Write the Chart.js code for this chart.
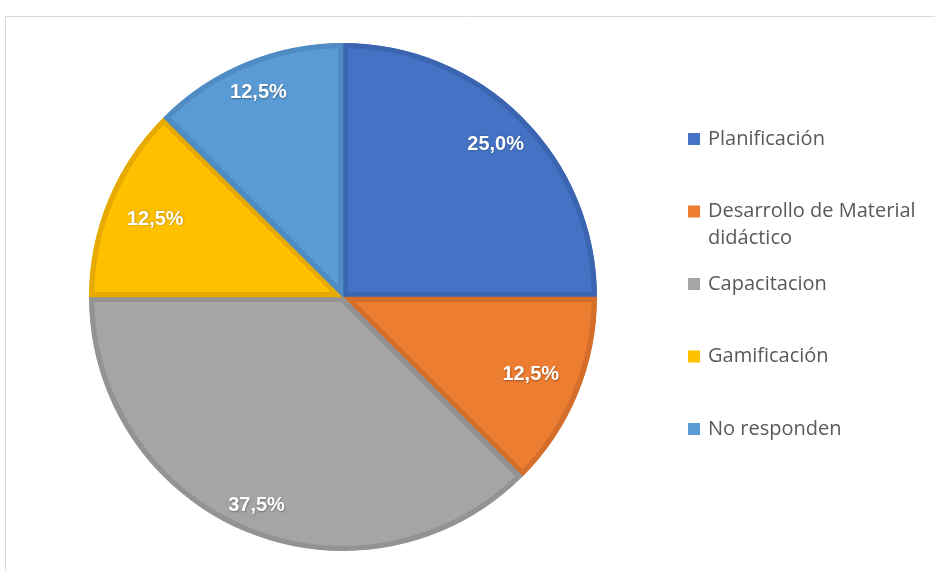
<!DOCTYPE html>
<html>
<head>
<meta charset="utf-8">
<script src="https://cdn.jsdelivr.net/npm/chart.js@4/dist/chart.umd.min.js"></script>
<style>
  html, body { margin: 0; padding: 0; background: #ffffff; }
  #wrap { position: relative; width: 935px; height: 570px; }
</style>
</head>
<body>
<div id="wrap"><canvas id="c" width="935" height="570"></canvas></div>
<script>
const categories = ["Planificación", "Desarrollo de Material didáctico", "Capacitacion", "Gamificación", "No responden"];
const legendLines = [["Planificación"], ["Desarrollo de Material", "didáctico"], ["Capacitacion"], ["Gamificación"], ["No responden"]];
const values = [25.0, 12.5, 37.5, 12.5, 12.5];
const colors = ["#4472C4", "#ED7D31", "#A5A5A5", "#FFC000", "#5B9BD5"];
const borderColors = ["#3b65b0", "#d46e2a", "#939393", "#e6aa00", "#4f8cc4"];

function fmt(v) { return v.toFixed(1).replace('.', ',') + '%'; }

const framePlugin = {
  id: 'frame',
  beforeDraw(chart) {
    const ctx = chart.ctx;
    ctx.save();
    ctx.strokeStyle = '#d9d9d9';
    ctx.lineWidth = 1;
    ctx.beginPath();
    ctx.moveTo(5.5, 570);
    ctx.lineTo(5.5, 16.5);
    ctx.lineTo(935, 16.5);
    ctx.stroke();
    ctx.restore();
  }
};

const labelPlugin = {
  id: 'sliceLabels',
  afterDatasetsDraw(chart, args, opts) {
    const ctx = chart.ctx;
    const meta = chart.getDatasetMeta(0);
    ctx.save();
    ctx.font = 'bold 20px "Liberation Sans Narrow", "Liberation Sans", sans-serif';
    ctx.textAlign = 'center';
    ctx.textBaseline = 'middle';
    meta.data.forEach((arc, i) => {
      const p = arc.getProps(['x', 'y', 'startAngle', 'endAngle', 'outerRadius'], true);
      const mid = (p.startAngle + p.endAngle) / 2;
      const r = p.outerRadius * opts.radiusFrac[i];
      const x = p.x + Math.cos(mid) * r;
      const y = p.y + Math.sin(mid) * r;
      ctx.shadowColor = 'rgba(0,0,0,0.35)';
      ctx.shadowBlur = 2;
      ctx.shadowOffsetX = 0.5;
      ctx.shadowOffsetY = 0.5;
      ctx.fillStyle = '#ffffff';
      ctx.fillText(fmt(chart.data.datasets[0].data[i]), x, y);
    });
    ctx.restore();
  }
};

const legendPlugin = {
  id: 'sideLegend',
  afterDraw(chart, args, opts) {
    const ctx = chart.ctx;
    ctx.save();
    ctx.font = '20px "Open Sans", sans-serif';
    ctx.textBaseline = 'middle';
    ctx.textAlign = 'left';
    legendLines.forEach((lines, i) => {
      const y = opts.top + i * opts.step;
      ctx.fillStyle = colors[i];
      ctx.fillRect(opts.x, y - 6, 12, 12);
      ctx.fillStyle = '#595959';
      lines.forEach((t, j) => ctx.fillText(t, opts.x + 20, y + j * opts.lineH));
    });
    ctx.restore();
  }
};

new Chart(document.getElementById('c'), {
  type: 'pie',
  data: {
    labels: categories,
    datasets: [{
      data: values,
      backgroundColor: colors,
      borderColor: borderColors,
      borderWidth: 5,
      borderAlign: 'inner'
    }]
  },
  options: {
    responsive: false,
    animation: false,
    layout: { padding: { left: 89, right: 338, top: 43, bottom: 19 } },
    plugins: {
      legend: { display: false },
      tooltip: { enabled: false },
      sliceLabels: { radiusFrac: [0.85, 0.80, 0.89, 0.80, 0.87] },
      sideLegend: { x: 688, top: 139, step: 72.5, lineH: 27 }
    }
  },
  plugins: [framePlugin, labelPlugin, legendPlugin]
});
</script>
</body>
</html>
